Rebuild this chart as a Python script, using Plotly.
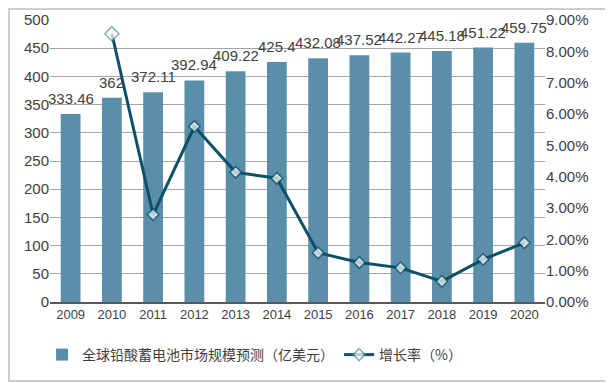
import plotly.graph_objects as go

years = [2009, 2010, 2011, 2012, 2013, 2014, 2015, 2016, 2017, 2018, 2019, 2020]
market = [333.46, 362, 372.11, 392.94, 409.22, 425.4, 432.08, 437.52, 442.27, 445.18, 451.22, 459.75]
growth_years = years[1:]
growth = [8.56, 2.79, 5.60, 4.14, 3.95, 1.57, 1.26, 1.09, 0.66, 1.36, 1.89]

bar_name = "全球铅酸蓄电池市场规模预测（亿美元）"
line_name = "增长率（%）"

font_family = "Arial, Liberation Sans, Noto Sans CJK SC, sans-serif"
bar_color = "#5b8fa9"
line_color = "#0c5168"

OFF = 8  # default page body margin
W, H = 613 - OFF, 383 - OFF
L, R, T, B = 50 - OFF, 545 - OFF, 20 - OFF, 302 - OFF  # plot area in figure pixels

fig = go.Figure()
fig.add_trace(go.Bar(
    x=years, y=market, name=bar_name,
    marker=dict(color=bar_color, line=dict(width=0)),
    width=0.48,
    cliponaxis=False,
))
sizes = [11] + [9] * (len(growth) - 1)
outlines = ["#4f8fa0"] + [line_color] * (len(growth) - 1)
fig.add_trace(go.Scatter(
    x=growth_years, y=growth, name=line_name, yaxis="y2",
    mode="lines+markers",
    line=dict(color=line_color, width=3),
    marker=dict(symbol="diamond", size=sizes, color="white",
                line=dict(color=outlines, width=1.5)),
    cliponaxis=False,
))

annotations = [
    dict(x=yr, y=v, xref="x", yref="y", text=f"{v:g}", showarrow=False,
         yanchor="bottom", xanchor="center", yshift=5,
         font=dict(size=15, color="#404040", family=font_family))
    for yr, v in zip(years, market)
]

fig.update_layout(
    width=W, height=H,
    margin=dict(l=L, r=W - R, t=T, b=H - B, autoexpand=False),
    paper_bgcolor="white", plot_bgcolor="white",
    font=dict(family=font_family, size=13, color="#595959"),
    showlegend=True,
    annotations=annotations,
    legend=dict(orientation="h", x=-0.016, xanchor="left",
                y=-(355 - 302) / (302 - 20), yanchor="middle",
                font=dict(size=14, color="#404040",
                          family="Noto Sans CJK SC, Arial, sans-serif"),
                traceorder="normal"),
    xaxis=dict(type="linear", range=[years[0] - 0.5, years[-1] + 0.5],
               tickmode="array", tickvals=years, ticktext=[str(y) for y in years],
               automargin=False,
               showgrid=False, showline=True, linecolor="#595959", zeroline=False,
               linewidth=1.5, ticks="", tickfont=dict(size=13, color="#404040")),
    yaxis=dict(range=[0, 500], dtick=50, showgrid=True, gridcolor="#a6a6a6",
               automargin=False,
               gridwidth=1, zeroline=False, showline=False, ticks="",
               tickfont=dict(size=15, color="#404040")),
    yaxis2=dict(range=[0, 9], dtick=1, overlaying="y", side="right",
                automargin=False,
                showgrid=False, zeroline=False, showline=False, ticks="",
                tickformat=".2f", ticksuffix="%",
                tickfont=dict(size=15, color="#404040")),
    shapes=[dict(type="rect", xref="paper", yref="paper",
                 x0=(1 - L) / (R - L), x1=(W - 2 - L) / (R - L),
                 y0=(B - (H - 2)) / (B - T), y1=(B - 1) / (B - T),
                 line=dict(color="#bfbfbf", width=1.5), fillcolor="rgba(0,0,0,0)",
                 layer="below")],
)

fig.write_html("out.html", config={"displayModeBar": False})
